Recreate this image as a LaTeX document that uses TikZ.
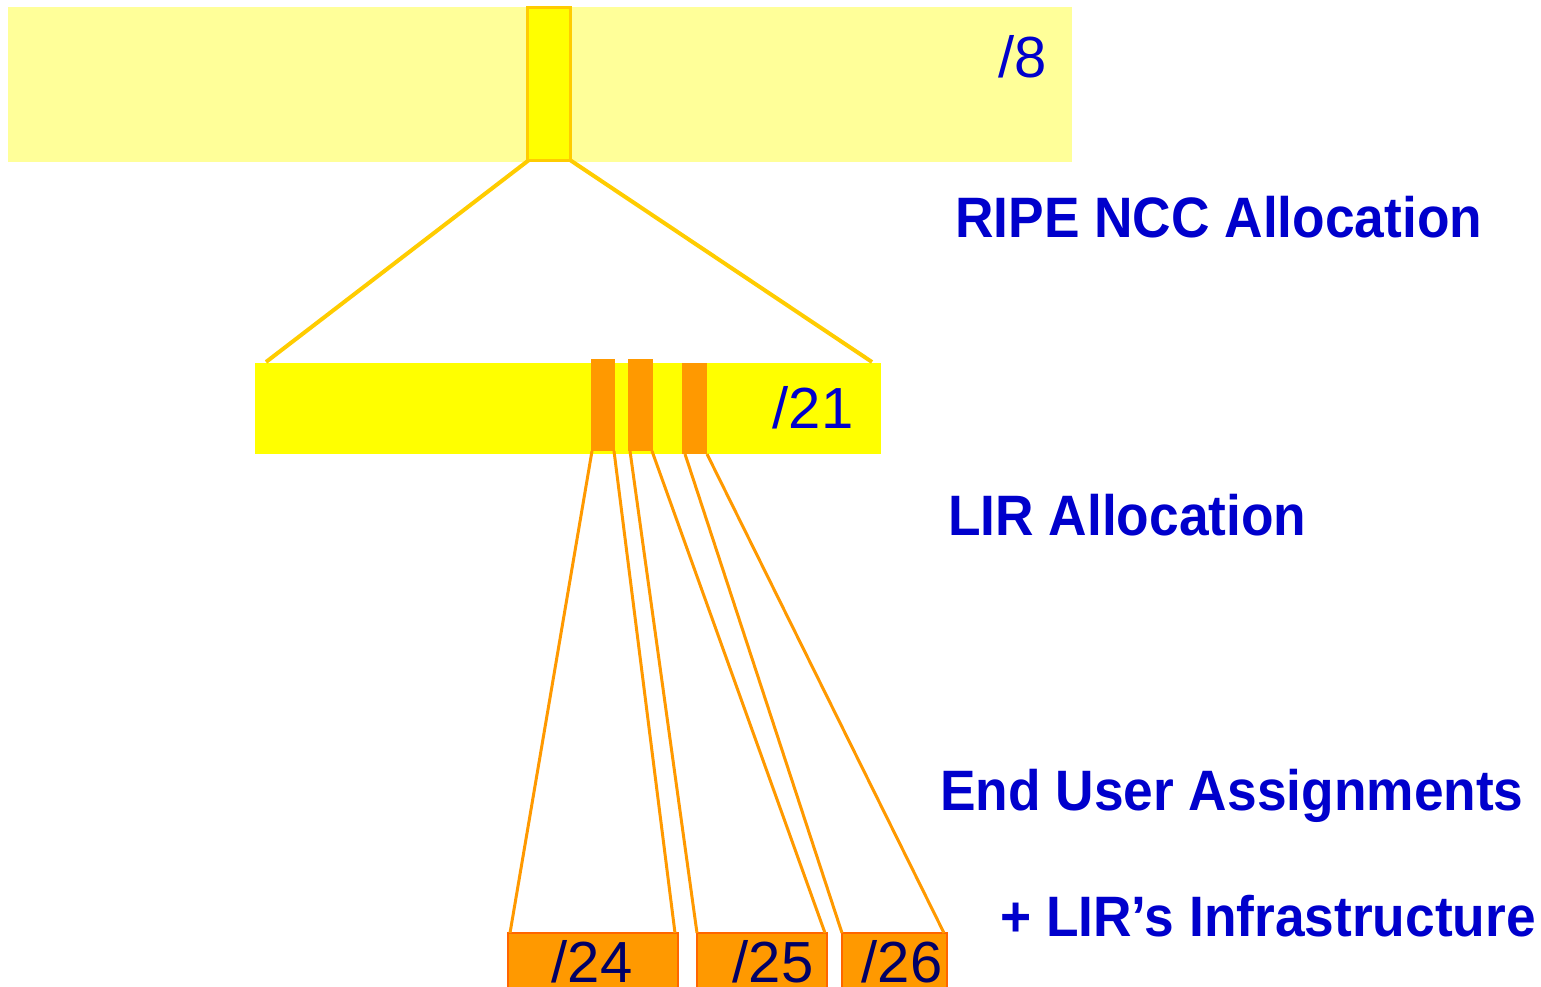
\documentclass[tikz,border=0pt]{standalone}
\usepackage{fontspec}
\setmainfont{Liberation Sans}
\newfontfamily\narrowsans[FakeStretch=0.935]{Liberation Sans}
\usepackage{tikz}
\usetikzlibrary{calc}
\usetikzlibrary{positioning}
\definecolor{paleyellow}{HTML}{FFFF99}
\definecolor{brightyellow}{HTML}{FFFF00}
\definecolor{goldline}{HTML}{FFCC00}
\definecolor{blockorange}{HTML}{FF9900}
\definecolor{edgeorange}{HTML}{FF6600}
\definecolor{labelblue}{HTML}{0000CC}
\definecolor{prefixnavy}{HTML}{000066}
\tikzstyle{block} = [rectangle, inner sep=0pt, outer sep=0pt]
\tikzstyle{subblock} = [block, fill=blockorange]
\tikzstyle{assignbox} = [block, fill=blockorange, draw=edgeorange, line width=2.5pt]
\tikzstyle{zoomline} = [goldline, line width=4pt]
\tikzstyle{splitline} = [blockorange, line width=3pt]
\tikzstyle{prefixtext} = [inner sep=0pt, font=\fontsize{58}{68}\selectfont]
\tikzstyle{captiontext} = [inner sep=0pt, anchor=base west, text=labelblue, font=\narrowsans\fontsize{57}{68}\selectfont\bfseries]

\begin{document}
\begin{tikzpicture}[x=1pt, y=-1pt]
  \useasboundingbox (0,0) rectangle (1541,986);
  \clip (0,0) rectangle (1541,986);

  \node[block, fill=paleyellow, minimum width=1064pt, minimum height=155pt] (pool) at (540,84.5) {};
  \node[block, fill=brightyellow, draw=goldline, line width=3pt, minimum width=43pt, minimum height=153pt] (ripe) at (548.5,83.5) {};
  \node[prefixtext, text=labelblue] (p8) at (1023,57) {/8};

  \node[block, fill=brightyellow, minimum width=626pt, minimum height=91pt] (lir) at (568,408.5) {};
  \node[subblock, minimum width=24pt, minimum height=92pt] (sa) at (603,405) {};
  \node[subblock, minimum width=25pt, minimum height=92pt] (sb) at (640.5,405) {};
  \node[subblock, minimum width=25pt, minimum height=91pt] (sc) at (694.5,408.5) {};
  \node[prefixtext, text=labelblue] (p21) at (813,408) {/21};

  \node[assignbox, minimum width=170pt, minimum height=80pt] (b24) at (593,973) {};
  \node[assignbox, minimum width=130pt, minimum height=80pt] (b25) at (762,973) {};
  \node[assignbox, minimum width=105pt, minimum height=80pt] (b26) at (894.5,973) {};
  \node[prefixtext, anchor=base, text=prefixnavy] (p24) at (592,982) {/24};
  \node[prefixtext, anchor=base, text=prefixnavy] (p25) at (773,982) {/25};
  \node[prefixtext, anchor=base, text=prefixnavy] (p26) at (902,982) {/26};

  \draw[zoomline] ([xshift=2pt]ripe.south west) -- ([xshift=11pt,yshift=1pt]lir.north west);
  \draw[zoomline] (ripe.south east) -- ([xshift=-9pt,yshift=1pt]lir.north east);

  \draw[splitline] ([xshift=1pt]sa.south west) -- ([xshift=2pt]b24.north west);
  \draw[splitline] ([xshift=-1pt]sa.south east) -- ([xshift=-3pt]b24.north east);
  \draw[splitline] ([xshift=2pt]sb.south west) -- (b25.north west);
  \draw[splitline] ([xshift=-1pt]sb.south east) -- ([xshift=-2pt]b25.north east);
  \draw[splitline] ([xshift=3pt]sc.south west) -- (b26.north west);
  \draw[splitline] (sc.south east) -- ([xshift=-3pt]b26.north east);

  \node[captiontext] (ripecap) at (955,237) {RIPE NCC Allocation};
  \node[captiontext] (lircap) at (948,535) {LIR Allocation};
  \node[captiontext] (endcap) at (940,810) {End User Assignments};
  \node[captiontext] (infracap) at (1000,936) {+ LIR’s Infrastructure};
\end{tikzpicture}
\end{document}
